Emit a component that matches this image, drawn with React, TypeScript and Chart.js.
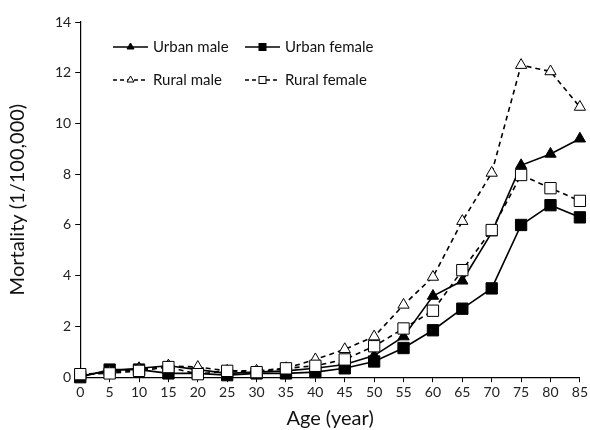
import React, { useEffect, useRef } from "react";
import { Chart, registerables } from "chart.js";

Chart.register(...registerables);

const ages = [0, 5, 10, 15, 20, 25, 30, 35, 40, 45, 50, 55, 60, 65, 70, 75, 80, 85];
const urbanMale = [0.05, 0.25, 0.35, 0.45, 0.3, 0.15, 0.2, 0.25, 0.35, 0.5, 0.85, 1.6, 3.2, 3.8, 5.7, 8.35, 8.8, 9.4];
const urbanFemale = [0.0, 0.3, 0.3, 0.15, 0.15, 0.08, 0.15, 0.15, 0.2, 0.35, 0.62, 1.15, 1.85, 2.7, 3.5, 6.0, 6.78, 6.3];
const ruralMale = [0.1, 0.2, 0.3, 0.45, 0.4, 0.25, 0.25, 0.35, 0.7, 1.1, 1.6, 2.85, 3.95, 6.15, 8.05, 12.3, 12.05, 10.65];
const ruralFemale = [0.12, 0.15, 0.25, 0.4, 0.12, 0.25, 0.2, 0.35, 0.45, 0.7, 1.22, 1.92, 2.62, 4.22, 5.8, 7.97, 7.45, 6.95];

const seriesNames = ["Urban male", "Urban female", "Rural male", "Rural female"];
const FONT = "Lato, 'Open Sans', sans-serif";

const toPts = (vals: number[]) => vals.map((v, i) => ({ x: ages[i], y: v }));

const legendPlugin = {
  id: "customLegend",
  afterDraw(chart: any) {
    const ctx = chart.ctx;
    const items = [
      { name: seriesNames[0], x: 113, y: 47, dash: [], style: "triangle", fill: "#000" },
      { name: seriesNames[1], x: 245, y: 47, dash: [], style: "rect", fill: "#000" },
      { name: seriesNames[2], x: 113, y: 80, dash: [4, 3], style: "triangle", fill: "#fff" },
      { name: seriesNames[3], x: 245, y: 80, dash: [4, 3], style: "rect", fill: "#fff" },
    ];
    ctx.save();
    for (const it of items) {
      ctx.strokeStyle = "#000";
      ctx.lineWidth = 1.6;
      ctx.setLineDash(it.dash);
      ctx.beginPath();
      ctx.moveTo(it.x, it.y);
      ctx.lineTo(it.x + 35, it.y);
      ctx.stroke();
      ctx.setLineDash([]);
      ctx.fillStyle = it.fill;
      ctx.lineWidth = 1;
      const cx = it.x + 17.5;
      if (it.style === "triangle") {
        ctx.beginPath();
        ctx.moveTo(cx, it.y - 4);
        ctx.lineTo(cx + 3.5, it.y + 2);
        ctx.lineTo(cx - 3.5, it.y + 2);
        ctx.closePath();
        ctx.fill();
        ctx.stroke();
      } else {
        ctx.fillRect(cx - 3.5, it.y - 3.5, 7, 7);
        ctx.strokeRect(cx - 3.5, it.y - 3.5, 7, 7);
      }
      ctx.fillStyle = "#111";
      ctx.font = `15px ${FONT}`;
      ctx.textAlign = "left";
      ctx.textBaseline = "middle";
      ctx.fillText(it.name, it.x + 40, it.y);
    }
    ctx.restore();
  },
};

export default function App() {
  const ref = useRef<HTMLCanvasElement>(null);
  useEffect(() => {
    document.body.style.margin = "0";
    const canvas = ref.current!;
    const chart = new Chart(canvas, {
      type: "line",
      data: {
        datasets: [
          {
            label: seriesNames[3],
            data: toPts(ruralFemale),
            borderColor: "#000",
            borderWidth: 1.6,
            borderDash: [5, 4],
            pointStyle: "rect",
            pointRadius: 8,
            pointBackgroundColor: "#fff",
            pointBorderColor: "#000",
            pointBorderWidth: 1,
            clip: false,
            order: 0,
          },
          {
            label: seriesNames[2],
            data: toPts(ruralMale),
            borderColor: "#000",
            borderWidth: 1.6,
            borderDash: [5, 4],
            pointStyle: "triangle",
            pointRadius: 6.5,
            pointBackgroundColor: "#fff",
            pointBorderColor: "#000",
            pointBorderWidth: 1,
            clip: false,
            order: 1,
          },
          {
            label: seriesNames[0],
            data: toPts(urbanMale),
            borderColor: "#000",
            borderWidth: 1.6,
            pointStyle: "triangle",
            pointRadius: 6.5,
            pointBackgroundColor: "#000",
            pointBorderColor: "#000",
            pointBorderWidth: 1,
            clip: false,
            order: 2,
          },
          {
            label: seriesNames[1],
            data: toPts(urbanFemale),
            borderColor: "#000",
            borderWidth: 1.6,
            pointStyle: "rect",
            pointRadius: 8,
            pointBackgroundColor: "#000",
            pointBorderColor: "#000",
            pointBorderWidth: 1,
            clip: false,
            order: 3,
          },
        ],
      },
      options: {
        animation: false,
        responsive: false,
        layout: { padding: { top: 22, right: 8, left: 6, bottom: -1 } },
        plugins: { legend: { display: false }, tooltip: { enabled: false } },
        scales: {
          x: {
            type: "linear",
            min: 0,
            max: 85,
            ticks: { stepSize: 5, color: "#222", font: { family: FONT, size: 14 }, padding: 2 },
            grid: { display: true, drawOnChartArea: false, drawTicks: true, tickLength: 5, color: "#000" },
            border: { display: true, color: "#000", width: 1.2 },
            title: { display: true, text: "Age (year)", color: "#111", font: { family: FONT, size: 20 }, padding: { top: 4, bottom: 0 } },
          },
          y: {
            min: 0,
            max: 14,
            ticks: { stepSize: 2, color: "#222", font: { family: FONT, size: 14 }, padding: 4 },
            grid: { display: true, drawOnChartArea: false, drawTicks: true, tickLength: 5, color: "#000" },
            border: { display: true, color: "#000", width: 1.2 },
            title: { display: true, text: "Mortality (1/100,000)", color: "#111", font: { family: FONT, size: 20 }, padding: { top: 0, bottom: 21 } },
          },
        },
      },
      plugins: [legendPlugin],
    });
    return () => chart.destroy();
  }, []);
  return <canvas ref={ref} width={590} height={430} style={{ display: "block" }} />;
}
